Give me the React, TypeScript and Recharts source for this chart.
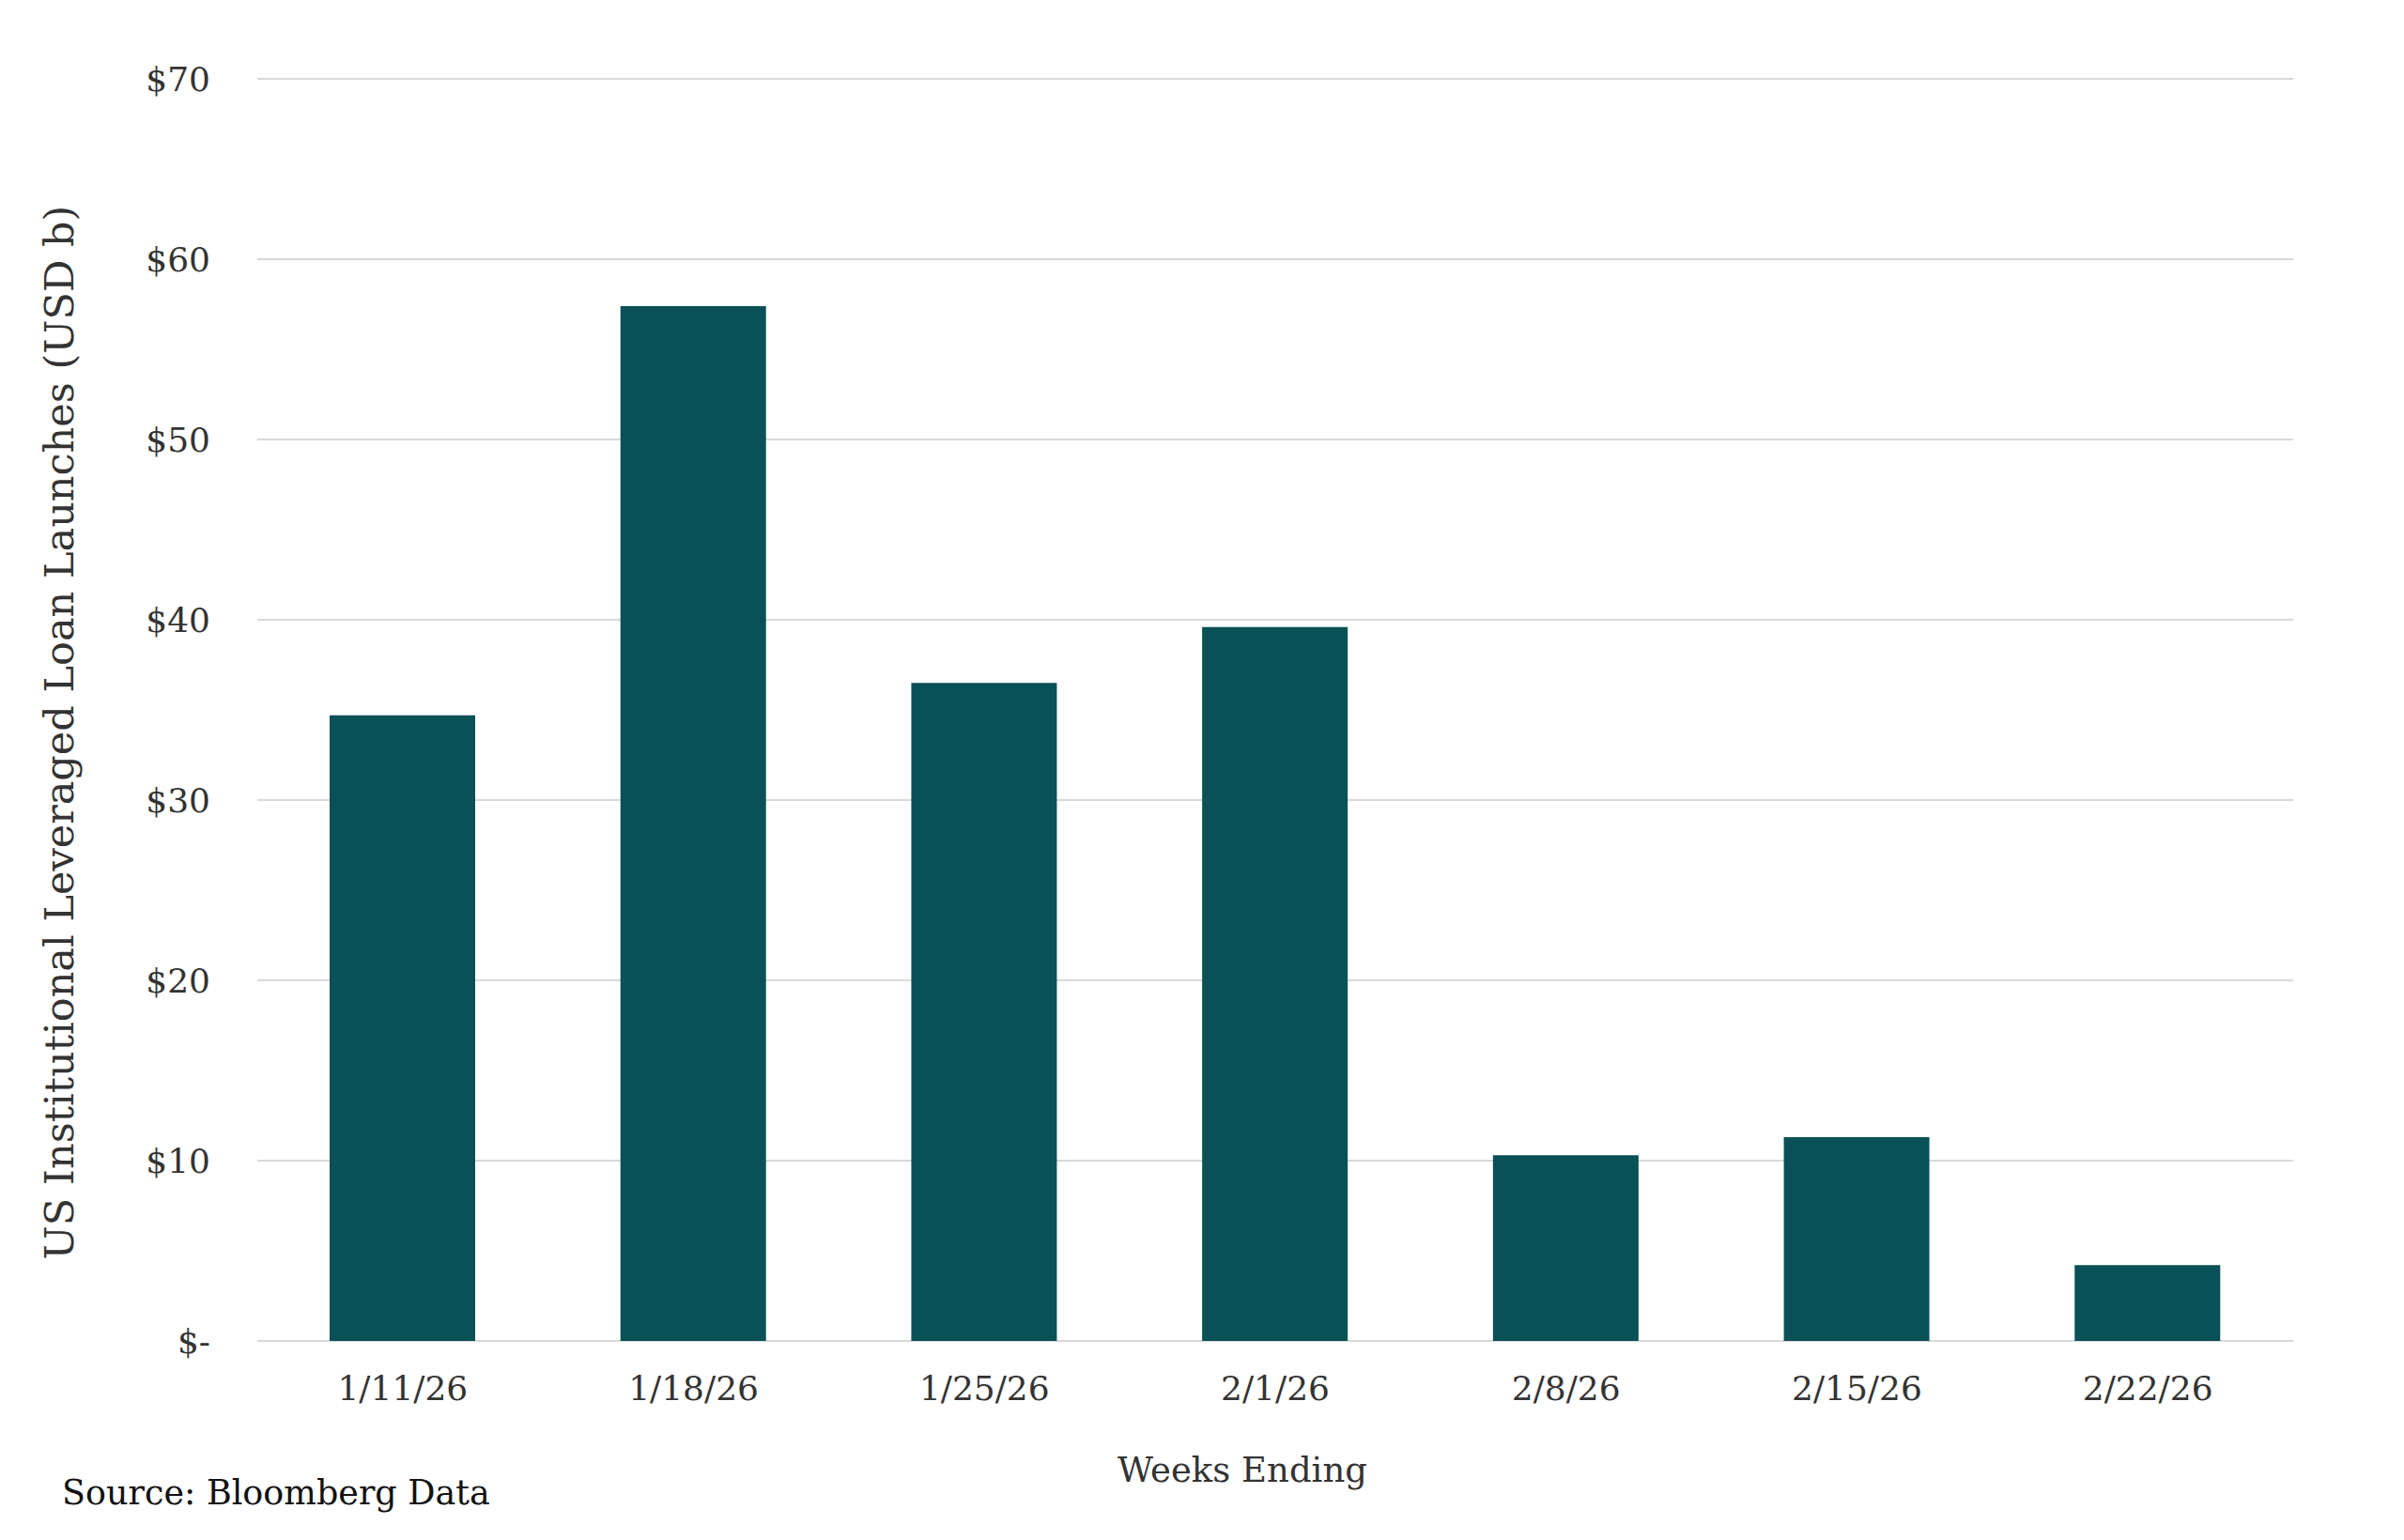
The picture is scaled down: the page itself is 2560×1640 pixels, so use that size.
import { BarChart, Bar, XAxis, YAxis, CartesianGrid } from "recharts";

const weeks = ["1/11/26", "1/18/26", "1/25/26", "2/1/26", "2/8/26", "2/15/26", "2/22/26"];
const launches = [34.7, 57.4, 36.5, 39.6, 10.3, 11.3, 4.2];
const yTicks = [0, 10, 20, 30, 40, 50, 60, 70];

const chartData = weeks.map((week, i) => ({ week, launches: launches[i] }));

const FONT = "'DejaVu Serif', serif";
const TEXT = "#333333";

const fmtDollar = (v: number) => (v === 0 ? "$-" : `$${v}`);

export default function App() {
  return (
    <div style={{ position: "relative", margin: -8, width: 2560, height: 1640, background: "#fff" }}>
      <BarChart
        width={2560}
        height={1640}
        data={chartData}
        margin={{ top: 84, right: 118, bottom: 0, left: 0 }}
        barSize={155}
      >
        <CartesianGrid vertical={false} stroke="#d9d9d9" strokeWidth={2} />
        <XAxis
          dataKey="week"
          height={212}
          axisLine={false}
          tickLine={false}
          tickMargin={31}
          tick={{ fill: TEXT, fontSize: 36, fontFamily: FONT }}
          interval={0}
        />
        <YAxis
          type="number"
          width={274}
          domain={[0, 70]}
          ticks={yTicks}
          axisLine={false}
          tickLine={false}
          tickMargin={44}
          tickFormatter={fmtDollar}
          tick={{ fill: TEXT, fontSize: 36, fontFamily: FONT }}
        />
        <Bar dataKey="launches" fill="#0a5057" isAnimationActive={false} />
      </BarChart>
      <svg
        width={2560}
        height={1640}
        style={{ position: "absolute", left: 0, top: 0, pointerEvents: "none" }}
        fontFamily={FONT}
      >
        <text
          x={78}
          y={780}
          transform="rotate(-90, 78, 780)"
          textAnchor="middle"
          fill={TEXT}
          fontSize={43}
        >
          US Institutional Leveraged Loan Launches (USD b)
        </text>
        <text x={1323} y={1578} textAnchor="middle" fill={TEXT} fontSize={37}>
          Weeks Ending
        </text>
        <text x={66} y={1602} fill="#111" fontSize={36.5}>
          Source: Bloomberg Data
        </text>
      </svg>
    </div>
  );
}
